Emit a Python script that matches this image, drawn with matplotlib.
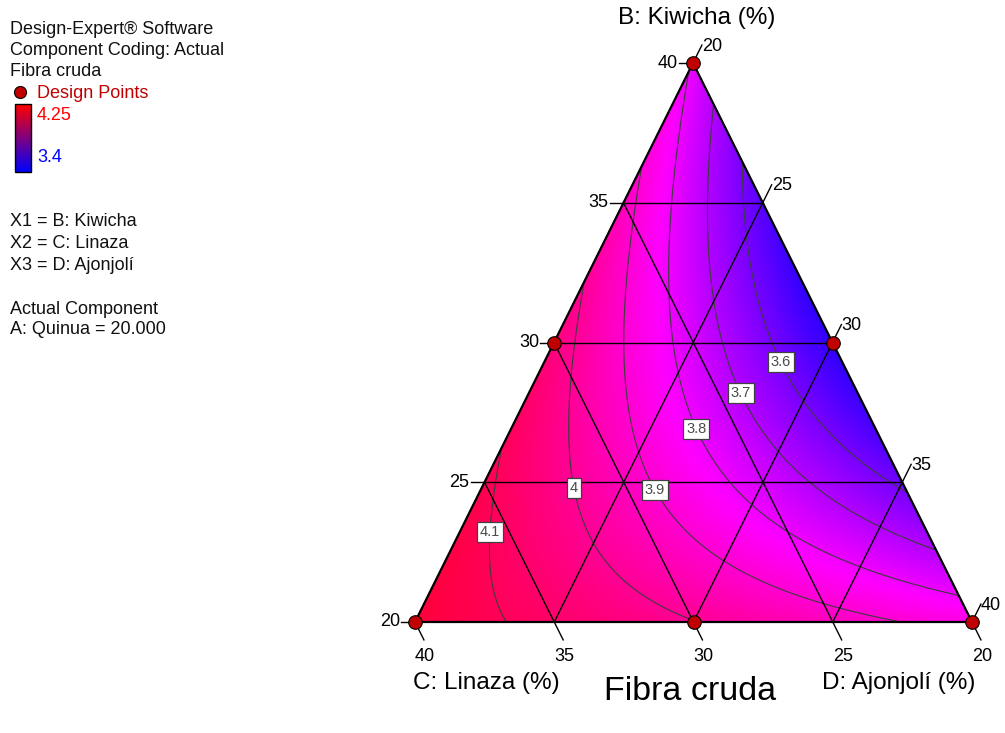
import numpy as np
import matplotlib
matplotlib.use("Agg")
import matplotlib.pyplot as plt
import matplotlib.tri as mtri
from matplotlib.colors import LinearSegmentedColormap
from matplotlib.patches import Rectangle

# design points in actual % (A: Quinua held at 20, so B + C + D = 80)
kiwicha = [40, 20, 20, 30, 30, 20]
linaza = [20, 40, 20, 30, 20, 30]
ajonjoli = [20, 20, 40, 20, 30, 30]
fibra = [3.79, 4.15, 3.867, 4.0425, 3.4785, 4.002]

contour_levels = [3.6, 3.7, 3.8, 3.9, 4.0, 4.1]
grid_values = [25, 30, 35]
edge_ticks = [20, 25, 30, 35, 40]
resp_low, resp_high = 3.4, 4.25

FONT = ["Liberation Sans", "DejaVu Sans"]
plt.rcParams["font.family"] = FONT

# triangle corners on the page (B apex, C bottom-left, D bottom-right)
APEX = np.array([693.0, 63.0])
LEFT = np.array([415.0, 622.0])
RIGHT = np.array([972.0, 622.0])


def pseudo(v):
    return (np.asarray(v, dtype=float) - 20.0) / 20.0


def to_xy(B, C, D):
    b, c, d = pseudo(B), pseudo(C), pseudo(D)
    x = b * APEX[0] + c * LEFT[0] + d * RIGHT[0]
    y = b * APEX[1] + c * LEFT[1] + d * RIGHT[1]
    return x, y


# Scheffe quadratic mixture model through the six design points
b, c, d = pseudo(kiwicha), pseudo(linaza), pseudo(ajonjoli)
X = np.column_stack([b, c, d, b * c, b * d, c * d])
coef = np.linalg.solve(X, np.asarray(fibra))

# fine triangular mesh over the simplex
n = 90
mb, mc = [], []
for i in range(n + 1):
    for j in range(n + 1 - i):
        mb.append(i / n)
        mc.append(j / n)
mb = np.array(mb)
mc = np.array(mc)
md = 1.0 - mb - mc
md[md < 0] = 0
z = coef[0] * mb + coef[1] * mc + coef[2] * md + coef[3] * mb * mc + coef[4] * mb * md + coef[5] * mc * md
mx, my = to_xy(20 + 20 * mb, 20 + 20 * mc, 20 + 20 * md)
tri = mtri.Triangulation(mx, my)

fill_cmap = LinearSegmentedColormap.from_list("fibra", ["#0000ff", "#ff00ff", "#ff0000"])
bar_cmap = LinearSegmentedColormap.from_list("fibra_bar", ["#0000ff", "#ff0000"])

fig = plt.figure(figsize=(10.05, 7.33), dpi=100)
ax = fig.add_axes([0, 0, 1, 1])
ax.set_xlim(0, 1005)
ax.set_ylim(733, 0)
ax.axis("off")

ax.tripcolor(tri, z, shading="gouraud", cmap=fill_cmap, vmin=resp_low, vmax=resp_high, zorder=1)
cs = ax.tricontour(tri, z, levels=contour_levels, colors="#3c3c3c", linewidths=0.8, zorder=2)

# grid lines for B, C and D
for v in grid_values:
    for p, q in [((v, 80 - v - 20, 20), (v, 20, 80 - v - 20)),
                 ((80 - v - 20, v, 20), (20, v, 80 - v - 20)),
                 ((80 - v - 20, 20, v), (20, 80 - v - 20, v))]:
        x0, y0 = to_xy(*p)
        x1, y1 = to_xy(*q)
        ax.plot([x0, x1], [y0, y1], color="black", lw=1.0, zorder=3)

# triangle outline
ox, oy = to_xy([40, 20, 20, 40], [20, 40, 20, 20], [20, 20, 40, 20])
ax.plot(ox, oy, color="black", lw=1.6, zorder=4, solid_joinstyle="miter")

# contour labels
label_spots = [(785, 360), (745, 391), (700, 427), (658, 488), (573, 488), (485, 532)]
texts = ax.clabel(cs, inline=False, fontsize=10.5, colors="#4a4a4a",
                  fmt=lambda v: f"{v:g}", manual=label_spots)
for t in texts:
    t.set_rotation(0)
    t.set_zorder(6)
    t.set_bbox(dict(boxstyle="square,pad=0.2", facecolor="white", edgecolor="#404040", lw=0.9))

# edge ticks and labels
tick_fs = 13
up_right = (APEX - LEFT) / np.linalg.norm(APEX - LEFT) * 20
down_right = (RIGHT - APEX) / np.linalg.norm(RIGHT - APEX) * 20
for v in edge_ticks:
    # B along the left edge
    x, y = to_xy(v, 60 - v, 20)
    ax.plot([x - 14, x], [y, y], color="black", lw=1.0, zorder=3)
    ax.text(x - 15, y, str(v), ha="right", va="center", fontsize=tick_fs)
    # D along the right edge
    x, y = to_xy(60 - v, 20, v)
    ex, ey = x + up_right[0], y + up_right[1]
    ax.plot([x, ex], [y, ey], color="black", lw=1.0, zorder=3)
    ax.text(ex, ey + 1, str(v), ha="left", va="center", fontsize=tick_fs)
    # C along the bottom edge
    x, y = to_xy(20, v, 60 - v)
    ex, ey = x + down_right[0], y + down_right[1]
    ax.plot([x, ex], [y, ey], color="black", lw=1.0, zorder=3)
    ax.text(ex + 1, ey + 17, str(v), ha="center", va="center", fontsize=tick_fs)

# design points
px, py = to_xy(kiwicha, linaza, ajonjoli)
ax.scatter(px, py, s=95, c="#c00000", edgecolors="black", linewidths=0.8, zorder=7, clip_on=False)

# axis titles
ax.text(697, 18, "B: Kiwicha (%)", ha="center", va="center", fontsize=17.5)
ax.text(413, 683, "C: Linaza (%)", ha="left", va="center", fontsize=17.5)
ax.text(975, 683, "D: Ajonjolí (%)", ha="right", va="center", fontsize=17.5)
ax.text(690, 692, "Fibra cruda", ha="center", va="center", fontsize=24.5)

# info block on the left
info_fs = 13
for yy, s in [(29, "Design-Expert® Software"), (50.5, "Component Coding: Actual"),
              (71.5, "Fibra cruda"), (222, "X1 = B: Kiwicha"), (244, "X2 = C: Linaza"),
              (266, "X3 = D: Ajonjolí"), (309, "Actual Component"), (330, "A: Quinua = 20.000")]:
    ax.text(10, yy, s, ha="left", va="center", fontsize=info_fs, color="#111111")

ax.scatter([20], [92], s=75, c="#c00000", edgecolors="black", linewidths=0.8, zorder=7)
ax.text(37, 93.5, "Design Points", ha="left", va="center", fontsize=info_fs, color="#c00000")

grad = np.linspace(resp_high, resp_low, 100).reshape(-1, 1)
ax.imshow(grad, cmap=bar_cmap, vmin=resp_low, vmax=resp_high, extent=[15, 31, 172, 104],
          aspect="auto", zorder=5, interpolation="bilinear")
ax.add_patch(Rectangle((15, 104), 16, 68, fill=False, edgecolor="black", lw=1.0, zorder=6))
ax.text(37, 115, f"{resp_high:g}", ha="left", va="center", fontsize=info_fs, color="#ff0000")
ax.text(37, 158, f"{resp_low:g}", ha="left", va="center", fontsize=info_fs, color="#0000ff")

ax.set_xlim(0, 1005)
ax.set_ylim(733, 0)
fig.savefig("out.png", dpi=100)
